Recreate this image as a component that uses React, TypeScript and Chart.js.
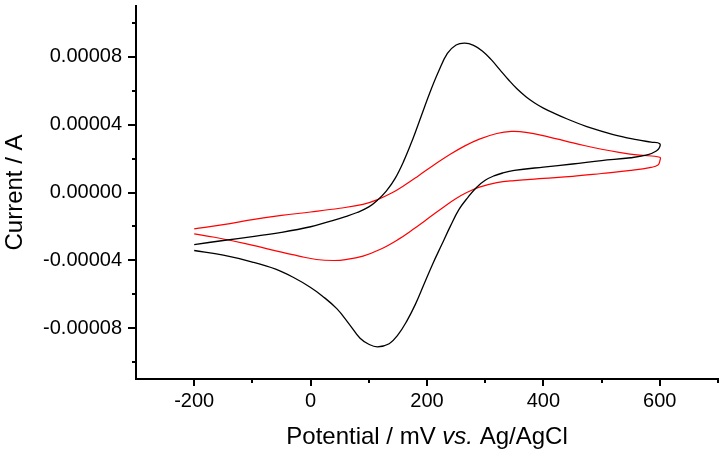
import React, { useEffect, useRef } from "react";
import { Chart, registerables } from "chart.js";

Chart.register(...registerables);

// Potential (mV) and current (1e-5 A) for each closed CV loop
const blackPotential = [
  -200, -150, -100, -50, 0, 33, 60, 80, 100, 115, 130, 145, 160, 175, 190, 205, 220, 235, 250, 265,
  280, 295, 310, 325, 340, 355, 370, 385, 400, 420, 440, 480, 520, 560, 585, 600,
  599, 594, 580, 550, 500, 450, 400, 350, 330, 315, 300, 285, 270, 255, 240, 225, 210, 195, 180, 165,
  150, 135, 115, 100, 85, 65, 45, 20, 0, -30, -60, -100, -150, -200,
];
const blackCurrent = [
  -3.07, -2.83, -2.6, -2.35, -2.02, -1.7, -1.42, -1.18, -0.85, -0.45, 0.08, 0.82, 1.85, 3.1, 4.5, 5.9, 7.15, 8.2, 8.7, 8.81,
  8.68, 8.35, 7.85, 7.25, 6.65, 6.1, 5.65, 5.28, 4.98, 4.65, 4.35, 3.82, 3.42, 3.12, 2.97, 2.88,
  2.62, 2.45, 2.23, 2.05, 1.88, 1.68, 1.5, 1.3, 1.15, 0.98, 0.72, 0.3, -0.3, -1.0, -2.0, -3.1, -4.2, -5.4, -6.6, -7.6,
  -8.4, -8.92, -9.1, -8.95, -8.6, -7.7, -6.85, -6.1, -5.6, -5.0, -4.52, -4.1, -3.7, -3.42,
];
const redPotential = [
  -200, -150, -100, -50, 0, 50, 90, 115, 140, 160, 185, 210, 240, 265, 290, 320, 345, 370, 410, 440,
  470, 500, 530, 565, 600,
  600, 597, 585, 550, 500, 450, 400, 350, 320, 290, 270, 250, 230, 205, 175, 150, 120, 90, 60, 40,
  10, -20, -50, -110, -165, -200,
];
const redCurrent = [
  -2.14, -1.9, -1.6, -1.35, -1.15, -0.93, -0.7, -0.42, -0.02, 0.4, 0.98, 1.58, 2.25, 2.75, 3.15, 3.48, 3.6, 3.55, 3.27, 3.02,
  2.77, 2.55, 2.37, 2.2, 2.08,
  1.85, 1.62, 1.48, 1.3, 1.12, 0.95, 0.83, 0.7, 0.58, 0.32, 0.03, -0.35, -0.82, -1.45, -2.2, -2.78, -3.35, -3.75, -3.96, -4.01,
  -3.95, -3.75, -3.52, -3.03, -2.64, -2.44,
];
const currentUnit = 1e-5;

const xTickValues = [-200, 0, 200, 400, 600];
const xMinorTicks = [-100, 100, 300, 500, 700];
const yTickValues = [-0.00008, -0.00004, 0, 0.00004, 0.00008];
const yTickLabels = ["-0.00008", "-0.00004", "0.00000", "0.00004", "0.00008"];
const yMinorTicks = [-0.0001, -0.00006, -0.00002, 0.00002, 0.00006, 0.0001];

// x-axis title pieces: [text, italic]
const xTitleParts: [string, boolean][] = [
  ["Potential / mV ", false],
  ["vs.", true],
  [" Ag/AgCl", false],
];
const yTitle = "Current / A";

const FONT = "'Liberation Sans', Arial, sans-serif";

const toPoints = (xs: number[], ys: number[]) => xs.map((x, i) => ({ x, y: ys[i] * currentUnit }));

const minorTickPlugin = {
  id: "minorTicks",
  afterDraw(chart: any) {
    const { ctx, chartArea, scales } = chart;
    ctx.save();
    ctx.strokeStyle = "#000";
    ctx.lineWidth = 2;
    ctx.beginPath();
    xMinorTicks.forEach((v) => {
      const px = Math.round(scales.x.getPixelForValue(v));
      ctx.moveTo(px, chartArea.bottom);
      ctx.lineTo(px, chartArea.bottom + 4);
    });
    yMinorTicks.forEach((v) => {
      const py = Math.round(scales.y.getPixelForValue(v));
      ctx.moveTo(chartArea.left, py);
      ctx.lineTo(chartArea.left - 4, py);
    });
    ctx.stroke();

    // x-axis title with italic "vs."
    const normal = `24px ${FONT}`;
    const italic = `italic 24px ${FONT}`;
    let total = 0;
    const widths = xTitleParts.map(([t, it]) => {
      ctx.font = it ? italic : normal;
      const w = ctx.measureText(t).width;
      total += w;
      return w;
    });
    let x = (chartArea.left + chartArea.right) / 2 - total / 2;
    const y = chart.height - 20;
    ctx.fillStyle = "#000";
    ctx.textBaseline = "middle";
    ctx.textAlign = "left";
    xTitleParts.forEach(([t, it], i) => {
      ctx.font = it ? italic : normal;
      ctx.fillText(t, x, y);
      x += widths[i];
    });
    ctx.restore();
  },
};

export default function App() {
  const ref = useRef<HTMLCanvasElement | null>(null);
  useEffect(() => {
    document.body.style.margin = "0";
    const chart = new Chart(ref.current as HTMLCanvasElement, {
      type: "scatter",
      data: {
        datasets: [
          {
            data: toPoints(blackPotential, blackCurrent),
            showLine: true,
            borderColor: "#000000",
            borderWidth: 1.3,
            pointRadius: 0,
            tension: 0.4,
          },
          {
            data: toPoints(redPotential, redCurrent),
            showLine: true,
            borderColor: "#ff0000",
            borderWidth: 1.2,
            pointRadius: 0,
            tension: 0.4,
          },
        ],
      },
      options: {
        animation: false,
        responsive: false,
        layout: { padding: { top: 6, right: 7, left: 0, bottom: 0 } },
        plugins: { legend: { display: false }, tooltip: { enabled: false } },
        scales: {
          x: {
            type: "linear",
            min: -300,
            max: 700,
            afterBuildTicks: (s: any) => {
              s.ticks = xTickValues.map((v) => ({ value: v }));
            },
            afterFit: (s: any) => {
              s.height = 78;
              s.paddingLeft = 0;
              s.paddingRight = 0;
            },
            grid: { display: true, drawOnChartArea: false, drawTicks: true, tickLength: 7, tickWidth: 2, tickColor: "#000", lineWidth: 2, color: "#000" },
            border: { display: true, color: "#000", width: 2 },
            ticks: { color: "#000", font: { family: FONT, size: 20 }, padding: 3, maxRotation: 0, autoSkip: false },
            title: { display: false },
          },
          y: {
            type: "linear",
            min: -0.00011,
            max: 0.00011,
            afterBuildTicks: (s: any) => {
              s.ticks = yTickValues.map((v) => ({ value: v }));
            },
            afterFit: (s: any) => {
              s.width = 136;
              s.paddingTop = 0;
              s.paddingBottom = 0;
            },
            grid: { display: true, drawOnChartArea: false, drawTicks: true, tickLength: 8, tickWidth: 2, tickColor: "#000", lineWidth: 2, color: "#000" },
            border: { display: true, color: "#000", width: 2 },
            ticks: {
              color: "#000",
              font: { family: FONT, size: 20 },
              padding: 6,
              autoSkip: false,
              callback: (v: any) => {
                const i = yTickValues.findIndex((t) => Math.abs(t - Number(v)) < 1e-9);
                return i >= 0 ? yTickLabels[i] : "";
              },
            },
            title: { display: true, text: yTitle, color: "#000", font: { family: FONT, size: 24 }, padding: { top: 1, bottom: 0 } },
          },
        },
      },
      plugins: [minorTickPlugin],
    });
    return () => chart.destroy();
  }, []);
  return (
    <div style={{ width: 725, height: 457 }}>
      <canvas ref={ref} width={725} height={457} />
    </div>
  );
}
